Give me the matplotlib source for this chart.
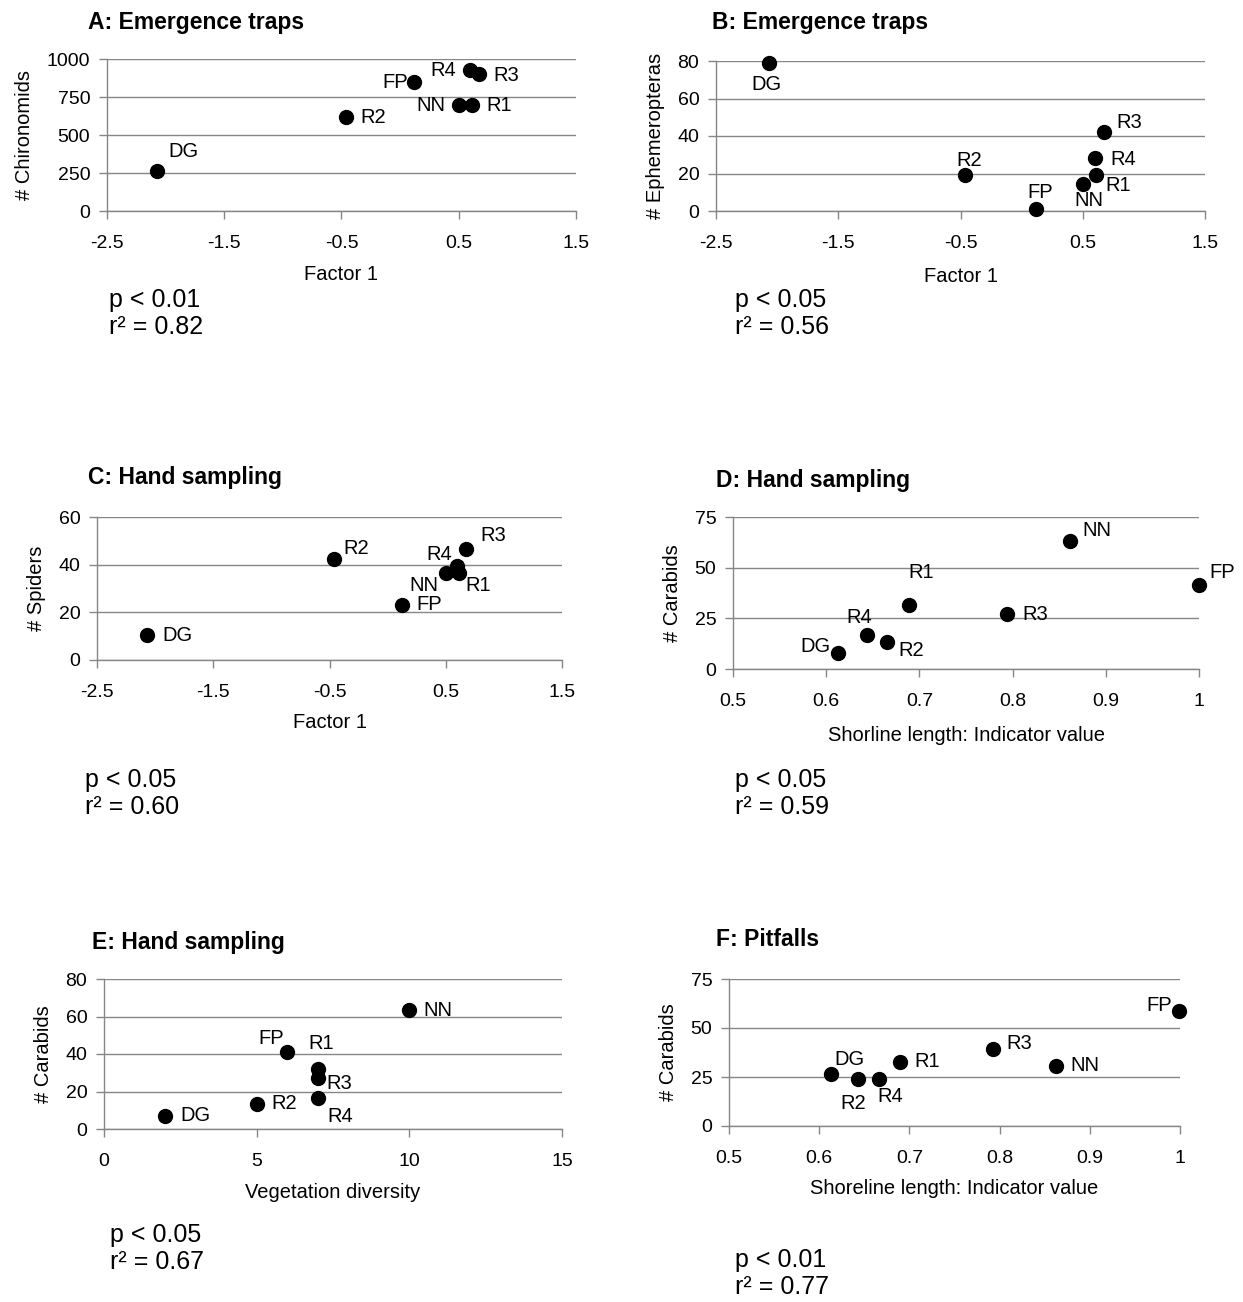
import matplotlib
matplotlib.use("Agg")
import matplotlib.pyplot as plt

plt.rcParams["font.family"] = ["Liberation Sans", "DejaVu Sans"]
plt.rcParams["axes.unicode_minus"] = False

W, H = 1243, 1302
GRAY = "#868686"

sites = ["DG", "R2", "FP", "NN", "R1", "R4", "R3"]

# Factor 1 scores (panels A-C)
factor1 = [-2.07, -0.46, 0.12, 0.50, 0.61, 0.60, 0.67]
chironomids = [264, 617, 846, 696, 696, 925, 903]
ephemeropteras = [78.9, 19.1, 0.9, 14.4, 19.3, 28.4, 42.2]
spiders = [10.3, 42.3, 23.2, 36.5, 36.3, 39.6, 46.6]

# Panel D: shoreline indicator vs carabids (hand sampling)
shore_d = [0.613, 0.665, 1.000, 0.862, 0.689, 0.644, 0.794]
carabids_d = [7.9, 13.4, 41.3, 63.2, 31.6, 16.7, 26.9]

# Panel E: vegetation diversity vs carabids (hand sampling)
veg_div = [2, 5, 6, 10, 7, 7, 7]
carabids_e = [7.1, 13.6, 41.1, 63.4, 31.8, 16.3, 27.1]

# Panel F: shoreline indicator vs carabids (pitfalls)
shore_f = [0.613, 0.643, 0.999, 0.862, 0.690, 0.666, 0.793]
carabids_f = [26.7, 24.0, 58.6, 30.8, 32.7, 24.0, 39.4]

titles = ["A: Emergence traps", "B: Emergence traps", "C: Hand sampling",
          "D: Hand sampling", "E: Hand sampling", "F: Pitfalls"]
ylabels = ["# Chironomids", "# Ephemeropteras", "# Spiders",
           "# Carabids", "# Carabids", "# Carabids"]
xlabels = ["Factor 1", "Factor 1", "Factor 1",
           "Shorline length: Indicator value", "Vegetation diversity",
           "Shoreline length: Indicator value"]
p_texts = ["p < 0.01", "p < 0.05", "p < 0.05", "p < 0.05", "p < 0.05", "p < 0.01"]
r2_texts = ["r\u00b2 = 0.82", "r\u00b2 = 0.56", "r\u00b2 = 0.60",
            "r\u00b2 = 0.59", "r\u00b2 = 0.67", "r\u00b2 = 0.77"]

factor_ticks = [-2.5, -1.5, -0.5, 0.5, 1.5]
shore_ticks = [0.5, 0.6, 0.7, 0.8, 0.9, 1.0]
shore_ticklabels = ["0.5", "0.6", "0.7", "0.8", "0.9", "1"]
veg_ticks = [0, 5, 10, 15]

panels = [
    dict(x=factor1, y=chironomids, xt=factor_ticks, xtl=None, yt=[0, 250, 500, 750, 1000]),
    dict(x=factor1, y=ephemeropteras, xt=factor_ticks, xtl=None, yt=[0, 20, 40, 60, 80]),
    dict(x=factor1, y=spiders, xt=factor_ticks, xtl=None, yt=[0, 20, 40, 60]),
    dict(x=shore_d, y=carabids_d, xt=shore_ticks, xtl=shore_ticklabels, yt=[0, 25, 50, 75]),
    dict(x=veg_div, y=carabids_e, xt=veg_ticks, xtl=None, yt=[0, 20, 40, 60, 80]),
    dict(x=shore_f, y=carabids_f, xt=shore_ticks, xtl=shore_ticklabels, yt=[0, 25, 50, 75]),
]

# layout in pixels: axes box (left, top, right, bottom), title, xlabel, stats
boxes = [(107, 59, 576, 211), (716, 61, 1205, 211), (97, 517, 562, 660),
         (733, 517, 1199, 669), (104, 979, 562, 1129), (729, 979, 1180, 1126)]
title_pos = [(88, 22), (712, 22), (88, 478), (716, 480), (92, 943), (716, 940)]
xlabel_y = [274, 277, 723, 735, 1193, 1188]
stats_pos = [(109, 300), (735, 300), (85, 780), (735, 780), (110, 1235), (735, 1260)]

# label offsets in pixels (dx, dy), per site order
offsets = [
    [(26, 19), (27, 0), (-19, 0), (-28, 0), (28, 0), (-27, 0), (28, -2)],
    [(-2, -21), (4, 15), (4, 17), (6, -17), (22, -11), (28, -2), (26, 9)],
    [(30, 0), (22, 11), (28, 0), (-22, -12), (20, -12), (-18, 11), (28, 13)],
    [(-23, 6), (24, -9), (23, 13), (26, 10), (12, 32), (-8, 18), (28, 0)],
    [(30, 0), (28, 0), (-16, 13), (29, 0), (3, 26), (23, -18), (22, -5)],
    [(19, 14), (-5, -25), (-20, 6), (29, 0), (27, 0), (12, -18), (26, 5)],
]

fig = plt.figure(figsize=(W / 100, H / 100), dpi=100)

for i, pnl in enumerate(panels):
    l, t, r, b = boxes[i]
    ax = fig.add_axes([l / W, 1 - b / H, (r - l) / W, (b - t) / H])
    ax.scatter(pnl["x"], pnl["y"], s=100, color="black", zorder=3, clip_on=False)
    for j, s in enumerate(sites):
        dx, dy = offsets[i][j]
        ax.annotate(s, (pnl["x"][j], pnl["y"][j]), xytext=(dx, dy),
                    textcoords="offset pixels", ha="center", va="center",
                    fontsize=14.5, annotation_clip=False)
    ax.set_xlim(pnl["xt"][0], pnl["xt"][-1])
    ax.set_ylim(pnl["yt"][0], pnl["yt"][-1])
    ax.set_xticks(pnl["xt"])
    if pnl["xtl"]:
        ax.set_xticklabels(pnl["xtl"])
    ax.set_yticks(pnl["yt"])
    ax.yaxis.grid(True, color=GRAY, linewidth=1)
    ax.set_axisbelow(True)
    for sp in ["top", "right"]:
        ax.spines[sp].set_visible(False)
    for sp in ["left", "bottom"]:
        ax.spines[sp].set_color(GRAY)
        ax.spines[sp].set_linewidth(1)
    ax.tick_params(axis="both", colors=GRAY, labelcolor="black", labelsize=14,
                   length=6, width=1, direction="out")
    ax.tick_params(axis="x", pad=11)
    ax.tick_params(axis="y", pad=6)
    ax.set_ylabel(ylabels[i], fontsize=14.5, labelpad=9)

    fig.text(title_pos[i][0] / W, 1 - title_pos[i][1] / H, titles[i],
             fontsize=16.5, fontweight="bold", ha="left", va="center")
    fig.text((l + r) / 2 / W, 1 - xlabel_y[i] / H, xlabels[i],
             fontsize=14.5, ha="center", va="center")
    sx, sy = stats_pos[i]
    fig.text(sx / W, 1 - sy / H, p_texts[i], fontsize=18, ha="left", va="center")
    fig.text(sx / W, 1 - (sy + 27) / H, r2_texts[i], fontsize=18, ha="left", va="center")

fig.savefig("out.png", dpi=100)
